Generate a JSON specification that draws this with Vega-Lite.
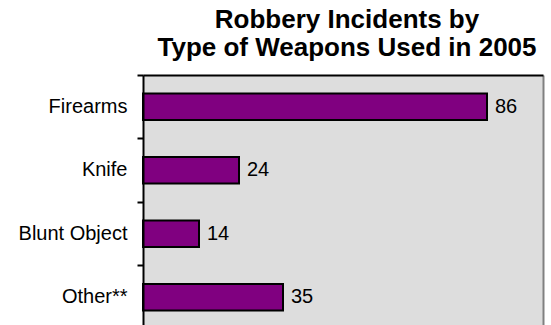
{
  "$schema": "https://vega.github.io/schema/vega-lite/v6.json",
  "autosize": {"type": "none"},
  "padding": {"left": 143, "top": 75, "right": 8, "bottom": 0},
  "width": 400,
  "height": 254,
  "background": "white",
  "title": {
    "text": ["Robbery Incidents by", "Type of Weapons Used in 2005"],
    "font": "Liberation Sans",
    "fontSize": 26,
    "fontWeight": "bold",
    "color": "black",
    "lineHeight": 28,
    "anchor": "middle",
    "frame": "group",
    "offset": 13,
    "dx": 4
  },
  "data": {
    "values": [
      {"weapon": "Firearms", "count": 86},
      {"weapon": "Knife", "count": 24},
      {"weapon": "Blunt Object", "count": 14},
      {"weapon": "Other**", "count": 35}
    ]
  },
  "layer": [
    {
      "mark": {"type": "bar", "color": "#800080", "stroke": "black", "strokeWidth": 2, "height": {"band": 0.42}},
      "encoding": {
        "y": {
          "field": "weapon", "type": "nominal", "sort": null,
          "scale": {"paddingInner": 0, "paddingOuter": 0},
          "axis": {"orient": "left", "title": null, "ticks": false, "domain": false, "grid": false, "labelPadding": 16, "labelFont": "Liberation Sans", "labelFontSize": 20, "labelColor": "black", "zindex": 1}
        },
        "x": {
          "field": "count", "type": "quantitative",
          "scale": {"domain": [0, 100], "nice": false},
          "axis": null
        }
      }
    },
    {
      "mark": {"type": "text", "align": "left", "baseline": "middle", "dx": 8, "font": "Liberation Sans", "fontSize": 20, "color": "black"},
      "encoding": {
        "y": {
          "field": "weapon", "type": "nominal", "sort": null,
          "axis": {
            "orient": "left", "title": null, "labels": false, "ticks": true, "tickSize": 6, "tickWidth": 2, "tickColor": "black", "bandPosition": 0,
            "domain": true, "domainColor": "black", "domainWidth": 2,
            "grid": true, "gridWidth": 2,
            "gridColor": {"condition": {"test": "datum.value === 'Firearms'", "value": "#000000"}, "value": "transparent"},
            "zindex": 2
          }
        },
        "x": {"field": "count", "type": "quantitative", "axis": null},
        "text": {"field": "count", "type": "quantitative"}
      }
    },
    {
      "mark": {"type": "point", "opacity": 0},
      "encoding": {
        "y": {
          "field": "weapon", "type": "nominal", "sort": null,
          "axis": {"orient": "right", "title": null, "labels": false, "ticks": false, "grid": false, "domain": true, "domainColor": "#808080", "domainWidth": 2, "zindex": 1}
        },
        "x": {"field": "count", "type": "quantitative", "axis": null}
      }
    }
  ],
  "resolve": {"axis": {"y": "independent"}},
  "config": {
    "view": {"fill": "#dddddd", "stroke": null}
  }
}
